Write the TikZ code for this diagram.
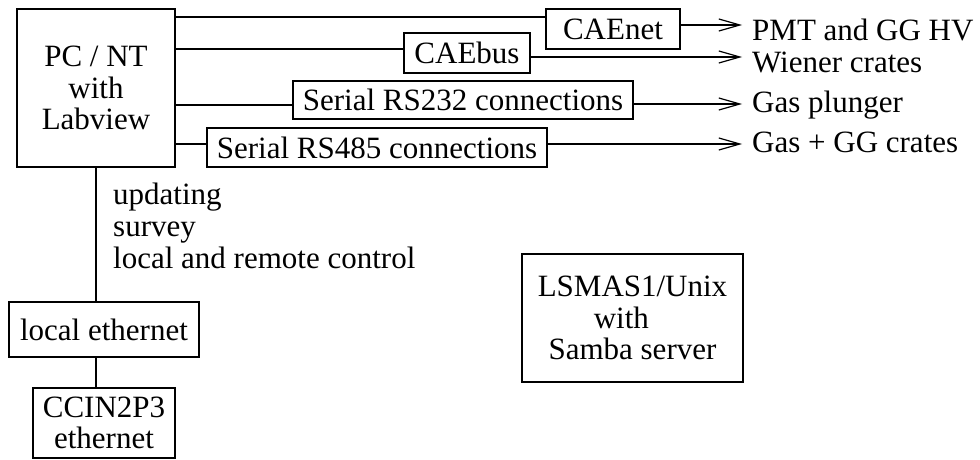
\documentclass[tikz,border=0pt]{standalone}
\usepackage{fontspec}
\setmainfont{Liberation Serif}
\usetikzlibrary{positioning,arrows.meta}

\begin{document}
\begin{tikzpicture}[x=1pt, y=1pt,
    font=\fontsize{31}{31.5}\selectfont,
    box/.style={draw, line width=1.3pt, inner sep=4pt, align=center},
    lbl/.style={anchor=base west, inner sep=0pt},
    wire/.style={line width=1.3pt},
    arr/.style={line width=1.3pt, shorten >=10pt,
      -{Straight Barb[length=21pt, width=12pt, line width=1.2pt]}}]
  \useasboundingbox (0,0) rectangle (980,-460);

  % boxes
  \node[box, minimum width=158pt, minimum height=158pt] (pc) at (96,-88) {PC / NT\\with\\Labview};
  \node[box, minimum width=134pt, minimum height=40pt] (cnet) at (613,-29) {CAEnet};
  \node[box, minimum width=126pt, minimum height=40pt] (cbus) at (467,-53) {CAEbus};
  \node[box, minimum width=340pt, minimum height=38pt] (rs232) at (463,-100) {Serial RS232 connections};
  \node[box, minimum width=340pt, minimum height=39pt] (rs485) at (377,-147.5) {Serial RS485 connections};
  \node[box, minimum width=190pt, minimum height=55pt] (leth) at (104,-329.5) {local ethernet};
  \node[box, minimum width=142pt, minimum height=70pt] (ccin) at (104,-423) {CCIN2P3\\ethernet};
  \node[box, minimum width=221pt, minimum height=128pt] (lsmas) at (632.5,-318) {LSMAS1/Unix\\with\phantom{w}\\Samba server};

  % targets
  \node[lbl] (pmt) at (752,-41) {PMT and GG HV};
  \node[lbl] (wien) at (752,-73) {Wiener crates};
  \node[lbl] (plng) at (752,-112) {Gas plunger};
  \node[lbl] (crat) at (752,-152) {Gas + GG crates};

  % tasks
  \foreach \t [count=\i] in {updating, survey, local and remote control}
    \node[lbl] (task\i) at (113,{-204-32*(\i-1)}) {\t};

  % rows of the links
  \node[coordinate] (r1) at (0,-17) {};
  \node[coordinate] (r2) at (0,-49) {};
  \node[coordinate] (r3) at (0,-105) {};
  \node[coordinate] (r4) at (0,-144) {};
  \node[coordinate] (a1) at (0,-25) {};
  \node[coordinate] (a2) at (0,-57) {};
  \node[coordinate] (a3) at (0,-104) {};
  \node[coordinate] (a4) at (0,-144) {};

  \draw[wire] (pc.east |- r1) -- (cnet.west |- r1);
  \draw[wire] (pc.east |- r2) -- (cbus.west |- r2);
  \draw[wire] (pc.east |- r3) -- (rs232.west |- r3);
  \draw[wire] (pc.east |- r4) -- (rs485.west |- r4);
  %
  \draw[arr] (cnet.east |- a1) -- (pmt.west |- a1);
  \draw[arr] (cbus.east |- a2) -- (wien.west |- a2);
  \draw[arr] (rs232.east |- a3) -- (plng.west |- a3);
  \draw[arr] (rs485.east |- a4) -- (crat.west |- a4);
  %
  \draw[wire] (pc.south) -- (pc.south |- leth.north);
  \draw[wire] (pc.south |- leth.south) -- (pc.south |- ccin.north);
\end{tikzpicture}
\end{document}
